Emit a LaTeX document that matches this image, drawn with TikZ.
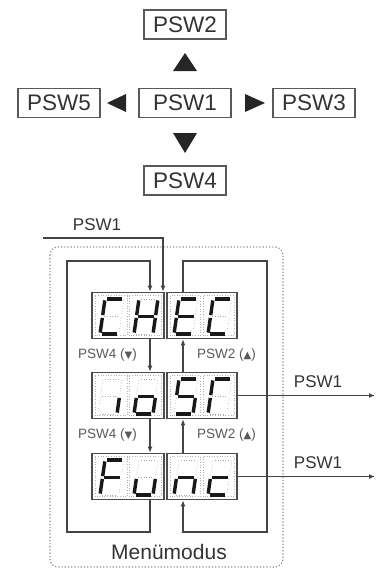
\documentclass[tikz,border=0pt]{standalone}
\usepackage{fontspec}
\setmainfont{Liberation Sans}
\newfontfamily\symf{DejaVu Sans}
\usetikzlibrary{arrows.meta}
\definecolor{ink}{HTML}{333333}
\definecolor{linec}{HTML}{444444}
\def\dgw{19}\def\dgs{5}\def\dgh{35}
\newcommand\segline[5]{\draw[#1] ({\bx+#2*\dgw+#3*\dgs},{\by-#3*\dgh}) -- ({\bx+#4*\dgw+#5*\dgs},{\by-#5*\dgh});}
\newcommand\sega[1]{\segline{#1}{0.1}{1}{0.9}{1}}
\newcommand\segb[1]{\segline{#1}{1}{0.96}{1}{0.54}}
\newcommand\segc[1]{\segline{#1}{1}{0.46}{1}{0.04}}
\newcommand\segd[1]{\segline{#1}{0.1}{0}{0.9}{0}}
\newcommand\sege[1]{\segline{#1}{0}{0.46}{0}{0.04}}
\newcommand\segf[1]{\segline{#1}{0}{0.96}{0}{0.54}}
\newcommand\segg[1]{\segline{#1}{0.1}{0.5}{0.9}{0.5}}
\newcommand\sdigit[3]{\def\bx{#1}\def\by{#2}%
  \foreach \s in {a,b,c,d,e,f,g}{\csname seg\s\endcsname{offseg}}%
  \foreach \s in {#3}{\csname seg\s\endcsname{onseg}}}
\begin{document}
\begin{tikzpicture}[x=1pt,y=-1pt,
  keybox/.style={draw=black!65,line width=1.5pt,minimum height=29pt,minimum width=82pt,inner sep=0pt,text=ink,font=\fontsize{22.5}{24}\selectfont},
  lbl/.style={text=ink,inner sep=0pt,font=\fontsize{17}{19}\selectfont},
  slbl/.style={text=black!65,inner sep=0pt,font=\fontsize{13.5}{15}\selectfont},
  disp/.style={draw=black!70,line width=1.6pt,minimum height=46pt,inner sep=0pt},
  conn/.style={draw=linec,line width=1.6pt},
  arr/.style={-{Latex[length=6pt,width=5pt]}},
  offseg/.style={draw=black!35,dotted,line width=0.6pt},
  onseg/.style={draw=black!90,line width=3.4pt},
  celldot/.style={draw=black!30,dotted,line width=0.6pt},
  tri/.style={fill=black!85}]
\useasboundingbox (0,0) rectangle (385,570);
% --- key layout ---
\node[keybox] (k2) at (185,24.5) {PSW2};
\node[keybox,minimum width=92pt] (k1) at (185,103) {PSW1};
\node[keybox] (k5) at (59,103) {PSW5};
\node[keybox] (k3) at (314,103) {PSW3};
\node[keybox] (k4) at (185,180.5) {PSW4};
\fill[tri] (173,71) -- (197,71) -- (185,53) -- cycle;
\fill[tri] (173,133) -- (197,133) -- (185,153) -- cycle;
\fill[tri] (126,94) -- (126,112) -- (107,103) -- cycle;
\fill[tri] (245,94) -- (245,112) -- (265,103) -- cycle;
% --- menu frame ---
\draw[draw=black!45,dotted,line width=1.2pt,rounded corners=8pt] (50,247) rectangle (283,567);
% --- displays ---
\node[disp,minimum width=72pt] (r1L) at (128,315.5) {};
\node[disp,minimum width=70pt] (r1R) at (202,315.5) {};
\node[disp,minimum width=72pt] (r2L) at (128,395.5) {};
\node[disp,minimum width=70pt] (r2R) at (202,395.5) {};
\node[disp,minimum width=72pt] (r3L) at (128,476.5) {};
\node[disp,minimum width=70pt] (r3R) at (202,476.5) {};
\foreach \t in {292.5,372.5,453.5}{
  \draw[celldot] (95,\t+3) rectangle (127,\t+43);
  \draw[celldot] (129,\t+3) rectangle (161,\t+43);
  \draw[celldot] (170,\t+3) rectangle (200,\t+43);
  \draw[celldot] (203,\t+3) rectangle (234,\t+43);
}
\sdigit{100}{334}{a,d,e,f}
\sdigit{134}{334}{b,c,e,f,g}
\sdigit{174}{334}{a,d,e,f,g}
\sdigit{208}{334}{a,d,e,f}
\sdigit{98}{414}{c}
\sdigit{134}{414}{c,d,e,g}
\sdigit{174}{414}{a,c,d,f,g}
\sdigit{208}{414}{a,e,f}
\sdigit{100}{495}{a,e,f,g}
\sdigit{134}{495}{c,d,e}
\sdigit{174}{495}{c,e,g}
\sdigit{208}{495}{d,e,g}
% --- connectors ---
\coordinate (p1s) at (43,238);
\coordinate (p1c) at (163,238);
\node[lbl] (p1lbl) at (97,225) {PSW1};
\draw[conn,arr] (p1s) -- (p1c) -- (p1c |- r1L.north);
\coordinate (LT) at (150,261);
\coordinate (LTL) at (67,261);
\coordinate (LBL) at (67,532);
\coordinate (LB) at (150,532);
\draw[conn,arr] (LT |- r3L.south) -- (LB) -- (LBL) -- (LTL) -- (LT) -- (LT |- r1L.north);
\coordinate (RT) at (183,261);
\coordinate (RTR) at (267,261);
\coordinate (RBR) at (267,532);
\coordinate (RB) at (183,532);
\draw[conn,arr] (RT |- r1R.north) -- (RT) -- (RTR) -- (RBR) -- (RB) -- (RB |- r3R.south);
\draw[conn,arr] (LT |- r1L.south) -- (LT |- r2L.north);
\draw[conn,arr] (LT |- r2L.south) -- (LT |- r3L.north);
\draw[conn,arr] (RT |- r2R.north) -- (RT |- r1R.south);
\draw[conn,arr] (RT |- r3R.north) -- (RT |- r2R.south);
\node[slbl] (d1) at (107.5,355) {PSW4 ({\symf\fontsize{10}{10}\selectfont ▼})};
\node[slbl] (u1) at (226.5,355) {PSW2 ({\symf\fontsize{10}{10}\selectfont ▲})};
\node[slbl] (d2) at (107.5,435) {PSW4 ({\symf\fontsize{10}{10}\selectfont ▼})};
\node[slbl] (u2) at (226.5,435) {PSW2 ({\symf\fontsize{10}{10}\selectfont ▲})};
\coordinate (o1) at (375,395.5);
\coordinate (o2) at (375,476.5);
\draw[conn,arr] (r2R.east) -- (o1);
\draw[conn,arr] (r3R.east) -- (o2);
\node[lbl] (o1lbl) at (318,382) {PSW1};
\node[lbl] (o2lbl) at (318,463) {PSW1};
\node[text=ink,inner sep=0pt,font=\fontsize{21}{23}\selectfont] (mm) at (169,552) {Menümodus};
\end{tikzpicture}
\end{document}
